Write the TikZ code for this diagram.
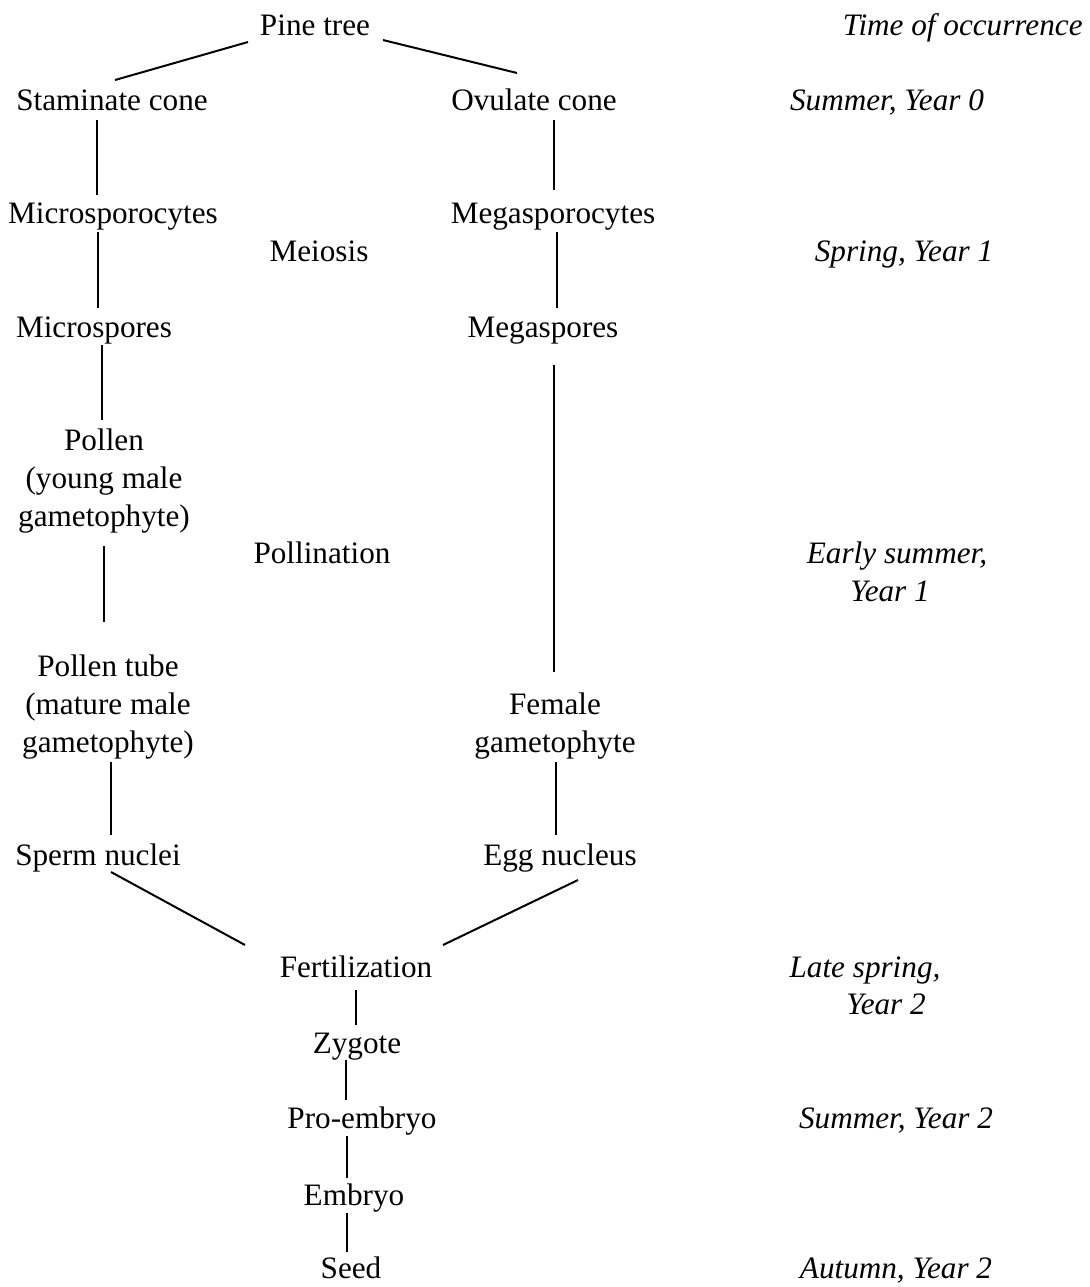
\documentclass[tikz,border=0pt]{standalone}
\usepackage{fontspec}
\setmainfont{Liberation Serif}
\usetikzlibrary{calc}
\begin{document}
\begin{tikzpicture}[x=0.5pt,y=-0.5pt,
  lbl/.style={inner sep=0pt,anchor=center,font=\fontsize{15.6}{19}\selectfont,text height=12.5pt,text depth=2.5pt},
  mlbl/.style={inner sep=0pt,anchor=center,font=\fontsize{15.6}{19}\selectfont,align=center},
  tlbl/.style={inner sep=0pt,font=\fontsize{15.6}{19}\selectfont\itshape,text height=12.5pt,text depth=2.5pt},
  conn/.style={line width=1pt}]
\useasboundingbox (0,0) rectangle (1090,1287);
% main nodes
\node[lbl] (pine) at (315,25) {Pine tree};
\node[lbl] (stam) at (112,100) {Staminate cone};
\node[lbl] (ovu) at (534,100) {Ovulate cone};
\node[lbl] (micro) at (113,213) {Microsporocytes};
\node[lbl] (mega) at (553,213) {Megasporocytes};
\node[lbl] (meiosis) at (319,251) {Meiosis};
\node[lbl] (mspore) at (94,327) {Microspores};
\node[lbl] (megasp) at (543,327) {Megaspores};
\node[mlbl] (pollen) at (104,481) {Pollen\\(young male\\gametophyte)};
\node[lbl] (pollin) at (322,553) {Pollination};
\node[mlbl] (ptube) at (108,707) {Pollen tube\\(mature male\\gametophyte)};
\node[mlbl] (female) at (555,726) {Female\\gametophyte};
\node[lbl] (sperm) at (98,855) {Sperm nuclei};
\node[lbl] (egg) at (560,855) {Egg nucleus};
\node[lbl] (fert) at (356,967) {Fertilization};
\node[lbl] (zyg) at (357,1043) {Zygote};
\node[lbl] (pro) at (362,1118) {Pro-embryo};
\node[lbl] (emb) at (354,1195) {Embryo};
\node[lbl] (seed) at (351,1268) {Seed};
% time column
\node[tlbl,anchor=east] (time) at (1083,25) {Time of occurrence};
\node[tlbl] (t0) at (887,100) {Summer, Year 0};
\node[tlbl] (t1) at (904,251) {Spring, Year 1};
\node[tlbl] (t2a) at (897,553) {Early summer,};
\node[tlbl] (t2b) at (890,591) {Year 1};
\node[tlbl] (t3a) at (865,967) {Late spring,};
\node[tlbl] (t3b) at (886,1004) {Year 2};
\node[tlbl] (t4) at (896,1118) {Summer, Year 2};
\node[tlbl] (t5) at (896,1268) {Autumn, Year 2};
% connectors
\draw[conn] ($(pine)+(-67,17)$) -- ($(stam)+(3,-20)$);
\draw[conn] ($(pine)+(68,15)$) -- ($(ovu)+(-17,-27)$);
\draw[conn] ($(stam)+(-15,20)$) -- ($(micro)+(-16,-18)$);
\draw[conn] ($(ovu)+(20,20)$) -- ($(mega)+(1,-23)$);
\draw[conn] ($(micro)+(-15,19)$) -- ($(mspore)+(4,-19)$);
\draw[conn] ($(mega)+(4,19)$) -- ($(megasp)+(14,-19)$);
\draw[conn] ($(mspore)+(8,18)$) -- ($(pollen)+(-2,-61)$);
\draw[conn] ($(megasp)+(11,38)$) -- ($(female)+(-1,-54)$);
\draw[conn] ($(pollen)+(0,65)$) -- ($(ptube)+(-4,-85)$);
\draw[conn] ($(ptube)+(3,55)$) -- ($(sperm)+(13,-20)$);
\draw[conn] ($(female)+(1,36)$) -- ($(egg)+(-4,-20)$);
\draw[conn] ($(sperm)+(13,17)$) -- ($(fert)+(-111,-22)$);
\draw[conn] ($(egg)+(18,25)$) -- ($(fert)+(87,-22)$);
\draw[conn] ($(fert)+(0,23)$) -- ($(zyg)+(-1,-18)$);
\draw[conn] ($(zyg)+(-11,17)$) -- ($(pro)+(-16,-18)$);
\draw[conn] ($(pro)+(-15,18)$) -- ($(emb)+(-7,-17)$);
\draw[conn] ($(emb)+(-7,18)$) -- ($(seed)+(-4,-16)$);
\end{tikzpicture}
\end{document}
